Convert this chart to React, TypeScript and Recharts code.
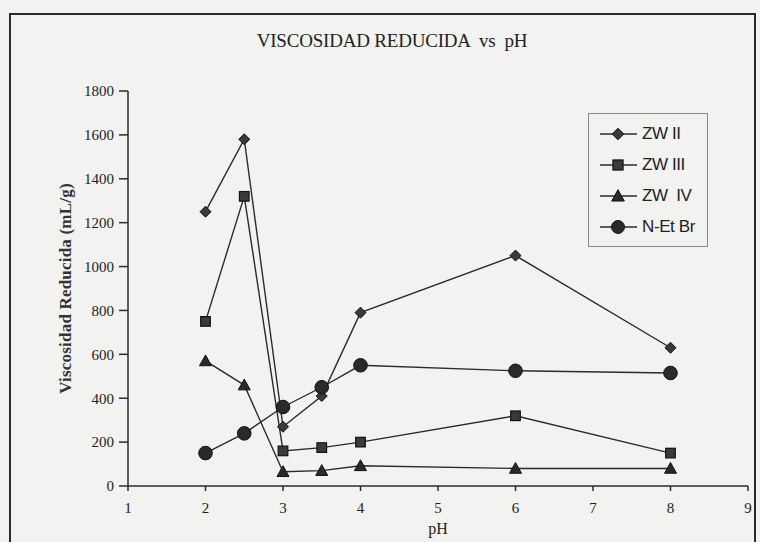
import React from 'react';
import { LineChart, Line, XAxis, YAxis, Legend, Label } from 'recharts';

const pHValues = [2, 2.5, 3, 3.5, 4, 6, 8];
const zwII = [1250, 1580, 270, 410, 790, 1050, 630];
const zwIII = [750, 1320, 160, 175, 200, 320, 150];
const zwIV = [570, 460, 65, 70, 92, 80, 80];
const nEtBr = [150, 240, 360, 450, 550, 525, 515];

const xTicks = [1, 2, 3, 4, 5, 6, 7, 8, 9];
const yTicks = [0, 200, 400, 600, 800, 1000, 1200, 1400, 1600, 1800];

const seriesNames = ['ZW II', 'ZW III', 'ZW  IV', 'N-Et Br'];
const seriesKeys = ['zwII', 'zwIII', 'zwIV', 'nEtBr'];
const seriesShapes = ['diamond', 'square', 'triangle', 'circle'];

const data = pHValues.map((p, i) => ({
  pH: p,
  zwII: zwII[i],
  zwIII: zwIII[i],
  zwIV: zwIV[i],
  nEtBr: nEtBr[i],
}));

const INK = '#2b2b2b';
const BG = '#f2f2f1';
const SERIF = '"Liberation Serif", "Times New Roman", serif';

function Marker({ shape, cx, cy, scale = 1 }: { shape: string; cx: number; cy: number; scale?: number }) {
  if (shape === 'diamond') {
    const s = 5.5 * scale;
    return (
      <polygon
        points={`${cx},${cy - s} ${cx + s},${cy} ${cx},${cy + s} ${cx - s},${cy}`}
        fill="#3a3a3a"
        stroke="#111"
        strokeWidth={1}
      />
    );
  }
  if (shape === 'square') {
    const s = 4.8 * scale;
    return <rect x={cx - s} y={cy - s} width={2 * s} height={2 * s} fill="#3a3a3a" stroke="#111" strokeWidth={1.2} />;
  }
  if (shape === 'triangle') {
    const s = 6 * scale;
    return (
      <polygon
        points={`${cx},${cy - s} ${cx + s},${cy + s * 0.8} ${cx - s},${cy + s * 0.8}`}
        fill="#2a2a2a"
        stroke="#111"
        strokeWidth={1}
      />
    );
  }
  return <circle cx={cx} cy={cy} r={6.8 * scale} fill="#2a2a2a" stroke="#111" strokeWidth={1} />;
}

const makeDot = (shape: string) => (props: any) => {
  const { cx, cy, index } = props;
  if (cx == null || cy == null) return <g key={`${shape}-${index}`} />;
  return (
    <g key={`${shape}-${index}`}>
      <Marker shape={shape} cx={cx} cy={cy} />
    </g>
  );
};

function LegendBox() {
  return (
    <div
      style={{
        width: 120,
        height: 134,
        border: '1px solid #8a8a8a',
        boxSizing: 'border-box',
        background: BG,
        paddingTop: 4,
      }}
    >
      {seriesNames.map((name, i) => (
        <div key={name} style={{ display: 'flex', alignItems: 'center', height: 31 }}>
          <svg width={52} height={20} style={{ display: 'block' }}>
            <line x1={11} y1={10} x2={48} y2={10} stroke={INK} strokeWidth={1.4} />
            <Marker shape={seriesShapes[i]} cx={29} cy={10} scale={i === 3 ? 0.95 : 1.05} />
          </svg>
          <span
            style={{
              fontFamily: '"Liberation Sans", Arial, sans-serif',
              fontSize: 17,
              color: '#222',
              whiteSpace: 'pre',
              marginLeft: 1,
              letterSpacing: -0.4,
            }}
          >
            {name}
          </span>
        </div>
      ))}
    </div>
  );
}

const tickStyle = { fontFamily: SERIF, fontSize: 15, fill: '#222' };

export default function App() {
  return (
    <div
      style={{
        position: 'absolute',
        left: 0,
        top: 0,
        width: 760,
        height: 542,
        background: BG,
        overflow: 'hidden',
      }}
    >
      <div
        style={{
          position: 'absolute',
          left: 9,
          top: 13,
          width: 747,
          height: 600,
          border: `2px solid ${INK}`,
          boxSizing: 'border-box',
        }}
      />
      <div
        style={{
          position: 'absolute',
          left: 0,
          width: 784,
          top: 30,
          textAlign: 'center',
          fontFamily: SERIF,
          fontSize: 19,
          color: '#222',
          whiteSpace: 'pre',
          letterSpacing: -0.2,
        }}
      >
        {'VISCOSIDAD REDUCIDA  vs  pH'}
      </div>
      <div style={{ position: 'absolute', left: 0, top: 0 }}>
        <LineChart width={760} height={542} data={data} margin={{ top: 91, right: 12, bottom: 0, left: 40 }}>
          <XAxis
            dataKey="pH"
            type="number"
            domain={[1, 9]}
            ticks={xTicks}
            allowDataOverflow
            tick={tickStyle}
            tickSize={5}
            tickMargin={11}
            height={56}
            stroke={INK}
            strokeWidth={1.5}
          >
            <Label
              value="pH"
              position="insideBottom"
              offset={8}
              style={{ fontFamily: SERIF, fontSize: 16, fill: '#222' }}
            />
          </XAxis>
          <XAxis xAxisId="top" orientation="top" dataKey="pH" type="number" domain={[1, 9]} tick={false} tickLine={false} height={0} stroke={INK} strokeWidth={1.5} />
          <YAxis
            domain={[0, 1800]}
            ticks={yTicks}
            tick={tickStyle}
            tickSize={9}
            tickMargin={5}
            width={88}
            stroke={INK}
            strokeWidth={1.5}
            allowDataOverflow
          >
            <Label
              content={(props: any) => {
                const vb = props.viewBox || {};
                const x = (vb.x ?? 40) + 25;
                const y = (vb.y ?? 91) + (vb.height ?? 395) / 2;
                return (
                  <text
                    x={x}
                    y={y}
                    transform={`rotate(-90 ${x} ${y})`}
                    textAnchor="middle"
                    dominantBaseline="central"
                    style={{ fontFamily: SERIF, fontSize: 17, fontWeight: 'bold', fill: '#333', letterSpacing: 0.2 }}
                  >
                    Viscosidad Reducida (mL/g)
                  </text>
                );
              }}
            />
          </YAxis>
          <YAxis yAxisId="right" orientation="right" domain={[0, 1800]} tick={false} tickLine={false} width={0} stroke={INK} strokeWidth={1.5} />
          <Legend
            layout="vertical"
            align="center"
            verticalAlign="middle"
            wrapperStyle={{ left: 588, top: 113, width: 120, height: 134 }}
            content={() => <LegendBox />}
          />
          {seriesKeys.map((k, i) => (
            <Line
              key={k}
              dataKey={k}
              name={seriesNames[i]}
              stroke={INK}
              strokeWidth={1.4}
              dot={makeDot(seriesShapes[i])}
              activeDot={false}
              isAnimationActive={false}
            />
          ))}
        </LineChart>
      </div>
    </div>
  );
}
